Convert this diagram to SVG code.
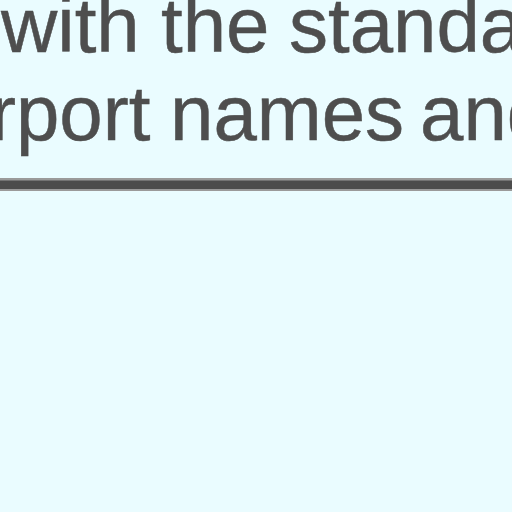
<svg xmlns="http://www.w3.org/2000/svg" width="512" height="512" viewBox="0 0 512 512">
<style>
.t{font-family:"Liberation Sans",Arial,sans-serif;font-size:78px;fill:#4e4e4e;stroke:#4e4e4e;stroke-width:0.5px}
</style>
<rect width="512" height="512" fill="#eafcff"/>
<g id="text">
<text class="t" y="52"><tspan x="1">with </tspan><tspan x="161">the </tspan><tspan x="289">standa</tspan></text>
<text class="t" y="140"><tspan x="-10">rport </tspan><tspan x="170">names </tspan><tspan x="420">and</tspan></text>
</g>
<g id="rule">
<rect x="0" y="178" width="512" height="13" fill="#9a9a9a"/>
<rect x="0" y="180.5" width="512" height="8.5" fill="#4c4c4c"/>
</g>
</svg>
